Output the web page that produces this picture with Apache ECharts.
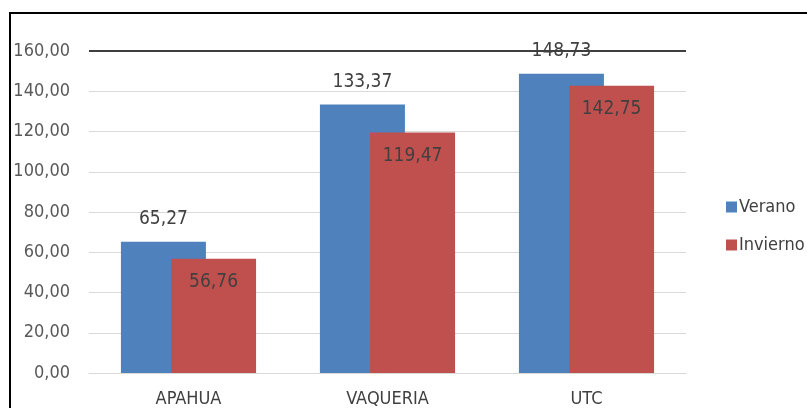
<!DOCTYPE html>
<html>
<head>
<meta charset="utf-8">
<script src="https://cdn.jsdelivr.net/npm/echarts@6/dist/echarts.min.js"></script>
<style>
html,body{margin:0;padding:0;background:#fff;}
#c{width:807px;height:408px;}
</style>
</head>
<body>
<div id="c"></div>
<script>
var categories = ['APAHUA', 'VAQUERIA', 'UTC'];
var verano = [65.27, 133.37, 148.73];
var invierno = [56.76, 119.47, 142.75];
var seriesNames = ['Verano', 'Invierno'];

function fmt(v) { return Number(v).toFixed(2).replace('.', ','); }

var FONT = '"DejaVu Sans Condensed", "DejaVu Sans"';
var chart = echarts.init(document.getElementById('c'));
chart.setOption({
  animation: false,
  textStyle: { fontFamily: FONT },
  grid: { left: 89, right: 121, top: 51, bottom: 35 },
  graphic: [{
    type: 'rect',
    shape: { x: 10, y: 13, width: 1000, height: 600 },
    style: { fill: 'none', stroke: '#000', lineWidth: 2 },
    silent: true
  }],
  legend: {
    orient: 'vertical',
    left: 721,
    top: 193,
    itemWidth: 11,
    itemHeight: 11,
    itemGap: 20,
    icon: 'rect',
    textStyle: { fontSize: 18, color: '#404040', fontFamily: FONT, padding: [0, 0, 0, -3] },
    data: seriesNames
  },
  xAxis: {
    type: 'category',
    data: categories,
    axisLine: { show: true, lineStyle: { color: '#d9d9d9', width: 1 } },
    axisTick: { show: false },
    axisLabel: { fontSize: 18, color: '#404040', margin: 17, fontFamily: FONT }
  },
  yAxis: {
    type: 'value',
    min: 0, max: 160, interval: 20,
    axisLine: { show: false },
    axisTick: { show: false },
    splitLine: { lineStyle: { color: '#d9d9d9', width: 1 } },
    axisLabel: { fontSize: 18, color: '#595959', margin: 19, fontFamily: FONT, formatter: fmt }
  },
  series: [{
    name: seriesNames[0],
    type: 'bar',
    data: verano,
    barWidth: 85,
    barGap: '-41%',
    itemStyle: { color: '#4f81bd' },
    label: { show: true, position: 'top', distance: 13, fontSize: 19, color: '#404040', fontFamily: FONT, formatter: function (p) { return fmt(p.value); } },
    markLine: {
      silent: true,
      symbol: ['none', 'none'],
      label: { show: false },
      lineStyle: { color: '#3f3f3f', width: 2, type: 'solid' },
      data: [{ yAxis: 160 }]
    }
  }, {
    name: seriesNames[1],
    type: 'bar',
    data: invierno,
    barWidth: 85,
    itemStyle: { color: '#c0504d' },
    label: { show: true, position: 'insideTop', distance: 14, fontSize: 19, color: '#404040', fontFamily: FONT, formatter: function (p) { return fmt(p.value); } }
  }]
});
</script>
</body>
</html>
